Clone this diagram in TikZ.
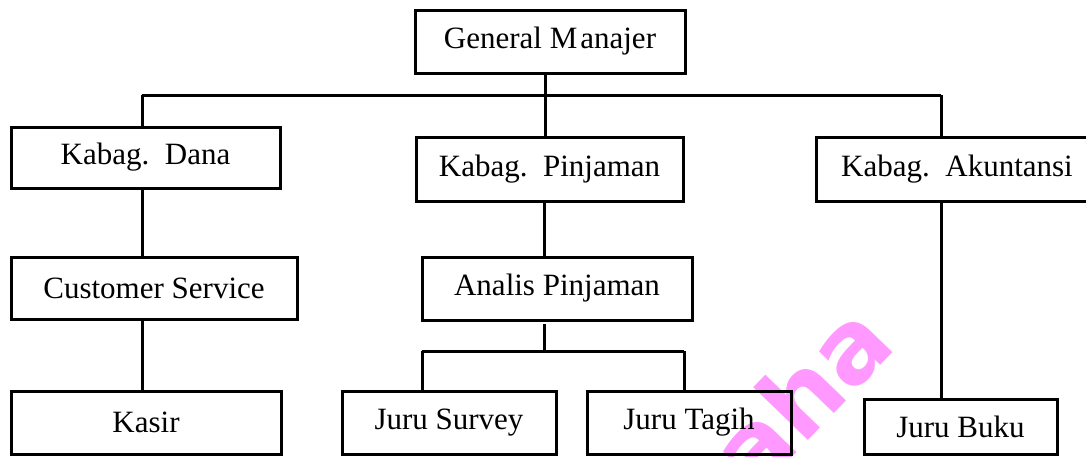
\documentclass[tikz,border=0pt]{standalone}
\usepackage{fontspec}
\setmainfont{Liberation Serif}
\newfontfamily\wmfont{DejaVu Sans}
\definecolor{wmpink}{RGB}{255,153,255}
\begin{document}
\begin{tikzpicture}[x=1pt,y=-1pt,
  orgbox/.style={draw, line width=3pt, inner sep=0pt, font=\fontsize{31}{36}\selectfont},
  conn/.style={line width=3pt},
  wm/.style={text=wmpink, font=\wmfont\bfseries\fontsize{100}{100}\selectfont, rotate=46}]
\useasboundingbox (0,0) rectangle (1086,456);
\clip (0,0) rectangle (1086,456);
% watermark
\node[wm] (wmark) at (800,395) {aha};
% boxes
\node[orgbox, minimum width=270pt, minimum height=63pt] (gm) at (550,41.5) {General M\hspace{3pt}anajer};
\node[orgbox, minimum width=269pt, minimum height=61pt] (dana) at (145.5,157.5) {Kabag.\ \ Dana};
\node[orgbox, minimum width=267pt, minimum height=64pt] (pinj) at (549.5,169) {Kabag.\ \ Pinjaman};
\node[orgbox, minimum width=282pt, minimum height=64pt] (akun) at (957,169) {Kabag.\ \ Akuntansi};
\node[orgbox, minimum width=286pt, minimum height=62pt] (cs) at (154,288) {Customer Service};
\node[orgbox, minimum width=270pt, minimum height=63pt] (analis) at (557,288.5) {Analis Pinjaman};
\node[orgbox, minimum width=270pt, minimum height=63pt] (kasir) at (146,422.5) {Kasir};
\node[orgbox, minimum width=214pt, minimum height=63pt] (survey) at (449,422.5) {Juru Survey};
\node[orgbox, minimum width=204pt, minimum height=63pt] (tagih) at (689,422.5) {Juru Tagih};
\node[orgbox, minimum width=193pt, minimum height=55pt] (buku) at (960.5,426.5) {Juru Buku};
% coordinates
\coordinate (busL) at (142,95);
\coordinate (busR) at (941,95);
\coordinate (busM) at (545,95);
\coordinate (subT) at (544,324);
\coordinate (subM) at (544,351);
\coordinate (subL) at (422,351);
\coordinate (subR) at (684,351);
% connectors
\draw[conn] (gm.south -| busM) -- (pinj.north -| busM);
\draw[conn] (busL) -- (busR);
\draw[conn] (busL) -- (dana.north -| busL);
\draw[conn] (busR) -- (akun.north -| busR);
\draw[conn] (dana.south -| busL) -- (cs.north -| busL);
\draw[conn] (cs.south -| busL) -- (kasir.north -| busL);
\draw[conn] (pinj.south -| subM) -- (analis.north -| subM);
\draw[conn] (subT) -- (subM);
\draw[conn] (subL) -- (subR);
\draw[conn] (subL) -- (survey.north -| subL);
\draw[conn] (subR) -- (tagih.north -| subR);
\draw[conn] (akun.south -| busR) -- (buku.north -| busR);
\end{tikzpicture}
\end{document}
